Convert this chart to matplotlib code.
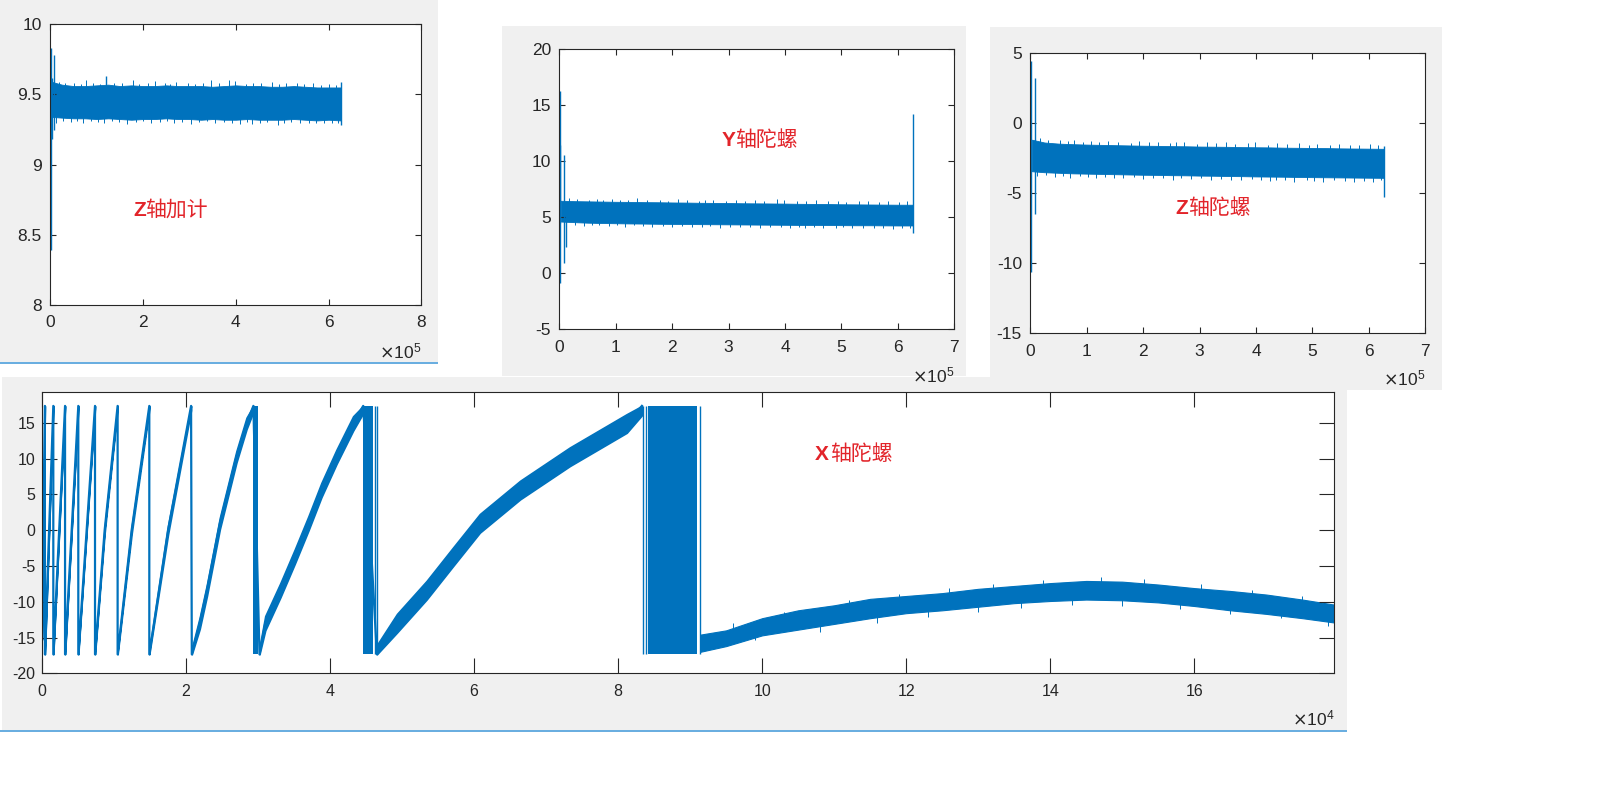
import numpy as np
import matplotlib
matplotlib.use('Agg')
import matplotlib.pyplot as plt
from matplotlib.patches import Rectangle

plt.rcParams['font.family'] = ['Liberation Sans', 'DejaVu Sans']
plt.rcParams['axes.unicode_minus'] = False

W, H = 1614, 787
BLUE = '#0072BD'
GRAY = '#F0F0F0'
AXC = '#262626'
RED = '#E2242A'
CJK = ['Noto Sans CJK SC', 'DejaVu Sans']

# ---- top three panels, x in units of 1e5 samples ----
env_x = [0.03, 0.25, 0.5, 0.75, 1.0, 1.25, 1.5, 1.75, 2.0, 2.25, 2.5, 2.75, 3.0,
         3.25, 3.5, 3.75, 4.0, 4.25, 4.5, 4.75, 5.0, 5.25, 5.5, 5.75, 6.0, 6.26]
# positions of visible noise peaks along the band edges
fz_up_x = [0.18, 0.31, 0.52, 0.66, 0.77, 0.93, 1.08, 1.21, 1.37, 1.55, 1.79, 1.92,
           2.11, 2.26, 2.47, 2.58, 2.72, 2.96, 3.13, 3.29, 3.46, 3.63, 3.86, 3.98,
           4.21, 4.38, 4.55, 4.77, 4.94, 5.08, 5.31, 5.47, 5.66, 5.83, 6.02, 6.17]
fz_lo_x = [0.12, 0.27, 0.44, 0.58, 0.71, 0.88, 1.02, 1.16, 1.33, 1.48, 1.65, 1.84,
           1.99, 2.18, 2.36, 2.52, 2.67, 2.85, 3.03, 3.21, 3.38, 3.55, 3.74, 3.92,
           4.09, 4.25, 4.36, 4.52, 4.68, 4.90, 5.03, 5.19, 5.38, 5.57, 5.74, 5.91, 6.08, 6.21]

# Z轴加计
zacc_up = [9.59, 9.57, 9.56, 9.56, 9.565, 9.57, 9.56, 9.565, 9.56, 9.56, 9.565, 9.56, 9.56,
           9.56, 9.555, 9.56, 9.565, 9.56, 9.56, 9.555, 9.555, 9.56, 9.555, 9.55, 9.55, 9.55]
zacc_lo = [9.34, 9.335, 9.33, 9.33, 9.325, 9.33, 9.325, 9.32, 9.325, 9.325, 9.33, 9.325, 9.325,
           9.32, 9.325, 9.32, 9.32, 9.325, 9.32, 9.32, 9.32, 9.325, 9.32, 9.315, 9.32, 9.315]
zacc_spk_x = [0.015, 0.03, 0.087, 1.21, 6.26]
zacc_spk_lo = [8.39, 9.18, 9.25, 9.45, 9.28]
zacc_spk_hi = [9.83, 9.62, 9.78, 9.63, 9.59]
zacc_fz_up = [9.59, 9.58, 9.585, 9.575, 9.60, 9.58, 9.575, 9.62, 9.58, 9.585, 9.60, 9.575,
              9.58, 9.595, 9.58, 9.575, 9.59, 9.58, 9.575, 9.585, 9.60, 9.58, 9.60, 9.595,
              9.575, 9.58, 9.585, 9.59, 9.575, 9.585, 9.58, 9.575, 9.58, 9.57, 9.575, 9.57]
zacc_fz_lo = [9.30, 9.31, 9.305, 9.31, 9.30, 9.31, 9.305, 9.30, 9.31, 9.305, 9.29, 9.305,
              9.31, 9.30, 9.305, 9.31, 9.30, 9.305, 9.29, 9.305, 9.31, 9.30, 9.305, 9.30,
              9.29, 9.305, 9.29, 9.30, 9.305, 9.28, 9.30, 9.305, 9.30, 9.295, 9.30, 9.295, 9.30, 9.295]

# Y轴陀螺
ygyr_up = [6.45, 6.42, 6.40, 6.38, 6.36, 6.35, 6.33, 6.32, 6.30, 6.29, 6.27, 6.26, 6.25,
           6.23, 6.22, 6.21, 6.20, 6.18, 6.17, 6.16, 6.14, 6.13, 6.12, 6.11, 6.10, 6.10]
ygyr_lo = [4.60, 4.55, 4.50, 4.47, 4.45, 4.43, 4.42, 4.40, 4.39, 4.38, 4.37, 4.36, 4.35,
           4.34, 4.33, 4.32, 4.31, 4.30, 4.30, 4.29, 4.28, 4.27, 4.27, 4.26, 4.25, 4.25]
ygyr_spk_x = [0.01, 0.02, 0.09, 0.12, 6.26]
ygyr_spk_lo = [-0.9, 4.5, 0.93, 2.3, 3.55]
ygyr_spk_hi = [11.4, 16.2, 10.5, 6.0, 14.18]
ygyr_fz_up = [6.7, 6.6, 6.55, 6.65, 6.5, 6.6, 6.55, 6.5, 6.7, 6.5, 6.55, 6.45,
              6.6, 6.5, 6.45, 6.55, 6.5, 6.45, 6.55, 6.4, 6.5, 6.45, 6.6, 6.5,
              6.4, 6.45, 6.5, 6.4, 6.45, 6.35, 6.45, 6.4, 6.35, 6.4, 6.35, 6.4]
ygyr_fz_lo = [4.35, 4.3, 4.2, 4.3, 4.25, 4.2, 4.3, 4.15, 4.25, 4.2, 4.1, 4.2,
              4.15, 4.2, 4.1, 4.15, 4.2, 4.05, 4.15, 4.1, 4.15, 4.05, 4.1, 4.15,
              4.0, 4.1, 4.05, 4.1, 4.0, 4.05, 4.1, 4.0, 4.05, 4.0, 4.05, 3.95, 4.05, 4.0]

# Z轴陀螺
zgyr_up = [-1.20, -1.40, -1.48, -1.52, -1.55, -1.57, -1.59, -1.61, -1.63, -1.64, -1.66, -1.67, -1.69,
           -1.70, -1.71, -1.73, -1.74, -1.75, -1.77, -1.78, -1.79, -1.80, -1.82, -1.83, -1.84, -1.85]
zgyr_lo = [-3.45, -3.52, -3.56, -3.60, -3.62, -3.64, -3.66, -3.68, -3.70, -3.71, -3.73, -3.74, -3.76,
           -3.77, -3.79, -3.80, -3.82, -3.83, -3.84, -3.86, -3.87, -3.88, -3.89, -3.90, -3.91, -3.92]
zgyr_spk_x = [0.005, 0.09, 6.26]
zgyr_spk_lo = [-10.65, -6.52, -5.31]
zgyr_spk_hi = [4.43, 3.17, -1.63]
zgyr_fz_up = [-1.1, -1.2, -1.25, -1.3, -1.2, -1.35, -1.3, -1.4, -1.3, -1.35, -1.45, -1.3,
              -1.4, -1.35, -1.45, -1.4, -1.35, -1.5, -1.4, -1.45, -1.35, -1.5, -1.45, -1.4,
              -1.55, -1.45, -1.5, -1.45, -1.55, -1.5, -1.6, -1.5, -1.55, -1.6, -1.5, -1.6]
zgyr_fz_lo = [-3.8, -3.75, -3.85, -3.8, -3.9, -3.8, -3.85, -3.95, -3.85, -3.9, -3.95, -3.85,
              -4.0, -3.9, -3.95, -4.05, -3.95, -4.0, -3.95, -4.1, -4.0, -4.05, -4.1, -4.0,
              -4.1, -4.15, -4.05, -4.1, -4.2, -4.1, -4.15, -4.2, -4.1, -4.15, -4.25, -4.15, -4.2, -4.1]

# ---- X轴陀螺, x in units of 1e4 samples ----
WRAP = 17.35
ramp_x = [
    [0.0, 0.04],
    [0.04, 0.157],
    [0.157, 0.32],
    [0.32, 0.504],
    [0.504, 0.736],
    [0.736, 0.87, 1.05],
    [1.05, 1.245, 1.49],
    [1.49, 1.75, 2.07],
    [2.08, 2.19, 2.29, 2.47, 2.70, 2.84, 2.935],
    [3.02, 3.10, 3.31, 3.51, 3.70, 3.88, 4.09, 4.32, 4.46],
    [4.65, 4.93, 5.34, 5.71, 6.08, 6.64, 7.33, 8.12, 8.33],
]
ramp_y = [
    [-15.0, 17.35],
    [-17.35, 17.35],
    [-17.35, 17.35],
    [-17.35, 17.35],
    [-17.35, 17.35],
    [-17.35, 0.0, 17.35],
    [-17.35, 0.0, 17.35],
    [-17.35, 0.0, 17.35],
    [-17.35, -13.0, -8.4, 0.95, 10.25, 14.9, 17.35],
    [-17.35, -13.0, -8.4, -3.7, 0.95, 5.6, 10.25, 14.9, 17.35],
    [-17.35, -13.0, -8.4, -3.7, 0.95, 5.6, 10.25, 14.9, 17.35],
]
ramp_noise = [0.3, 0.3, 0.3, 0.3, 0.4, 0.4, 0.5, 0.6, 0.8, 1.0, 1.3]
wrap_blocks = [(2.935, 3.0), (4.46, 4.60), (8.42, 9.10)]
wrap_lines = [4.62, 4.645, 8.34, 8.38, 9.13]

tail_x = [9.14, 9.5, 10.0, 10.5, 11.0, 11.5, 12.0, 12.5, 13.0, 13.5, 14.0, 14.5,
          15.0, 15.5, 16.0, 16.5, 17.0, 17.5, 17.94]
tail_up = [-14.6, -14.0, -12.3, -11.2, -10.5, -9.6, -9.2, -8.8, -8.2, -7.8, -7.4, -7.1,
           -7.2, -7.6, -8.1, -8.5, -9.0, -9.7, -10.4]
tail_lo = [-17.0, -16.2, -14.7, -13.9, -13.1, -12.3, -11.6, -11.2, -10.7, -10.2, -9.9, -9.7,
           -9.8, -10.1, -10.6, -11.2, -11.7, -12.3, -12.9]
tail_fz_up_x = [9.6, 10.3, 11.2, 11.9, 12.6, 13.2, 13.9, 14.7, 15.3, 16.1, 16.8, 17.5]
tail_fz_up = [-13.0, -11.5, -9.7, -8.9, -8.1, -7.5, -6.9, -6.5, -6.8, -7.5, -8.3, -9.2]
tail_fz_lo_x = [9.9, 10.8, 11.6, 12.3, 13.0, 13.6, 14.3, 15.0, 15.8, 16.5, 17.2, 17.85]
tail_fz_lo = [-15.3, -14.2, -13.0, -12.2, -11.4, -10.9, -10.5, -10.6, -11.0, -11.7, -12.3, -13.4]

fig = plt.figure(figsize=(W / 100, H / 100), dpi=100)
fig.patch.set_facecolor('white')


def rect(x0, y0, x1, y1, color=GRAY):
    fig.add_artist(Rectangle((x0 / W, 1 - y1 / H), (x1 - x0) / W, (y1 - y0) / H,
                             transform=fig.transFigure, color=color, zorder=-10, lw=0))


def add_ax(l, t, r, b):
    return fig.add_axes([l / W, 1 - b / H, (r - l) / W, (b - t) / H])


def style(ax, ticklen, fs, xpad, ypad):
    ax.tick_params(axis='both', direction='in', length=ticklen, width=0.8, colors=AXC,
                   labelsize=fs, top=True, right=True)
    ax.tick_params(axis='x', pad=xpad)
    ax.tick_params(axis='y', pad=ypad)
    for s in ax.spines.values():
        s.set_color(AXC)
        s.set_linewidth(0.8)


def label(x_latin, x_cjk, y, latin, cjk):
    fig.text(x_latin / W, 1 - y / H, latin, color=RED, fontsize=15, weight='bold',
             va='center', ha='left', zorder=20)
    fig.text(x_cjk / W, 1 - y / H, cjk, color=RED, fontsize=15, family=CJK,
             va='center', ha='left', zorder=20)


def expo(xr, y, n):
    fig.text(xr / W, 1 - y / H, r'$\times\mathregular{10^{%d}}$' % n, color=AXC,
             fontsize=12.5, ha='right', va='bottom', zorder=20)


def fuzz(ax, bx, bmid, xs, tips):
    n = min(len(xs), len(tips))
    xs = np.asarray(xs[:n])
    ax.vlines(xs, np.interp(xs, bx, bmid), tips[:n], color=BLUE, lw=0.7)


# backgrounds (screenshot windows)
rect(0, 0, 438, 362)
rect(502, 26, 966, 376)
rect(990, 27, 1442, 390)
rect(2, 377, 1347, 731)
rect(0, 362, 438, 364, color='#6AAEE0')
rect(0, 730, 1347, 732, color='#6AAEE0')


def band_panel(ax, up, lo, sx, slo, shi, fu, fl):
    mid = (np.asarray(up) + np.asarray(lo)) / 2
    ax.fill_between(env_x, lo, up, color=BLUE, lw=0.6, edgecolor=BLUE)
    fuzz(ax, env_x, mid, fz_up_x, fu)
    fuzz(ax, env_x, mid, fz_lo_x, fl)
    ax.vlines(sx, slo, shi, color=BLUE, lw=1.0)


# panel 1: Z轴加计
ax1 = add_ax(50.3, 24.3, 421.3, 305)
band_panel(ax1, zacc_up, zacc_lo, zacc_spk_x, zacc_spk_lo, zacc_spk_hi, zacc_fz_up, zacc_fz_lo)
ax1.set_xlim(0, 8)
ax1.set_ylim(8, 10)
ax1.set_xticks([0, 2, 4, 6, 8])
ax1.set_yticks([8, 8.5, 9, 9.5, 10])
ax1.set_yticklabels(['8', '8.5', '9', '9.5', '10'])
style(ax1, 4, 12.5, 7.5, 6)
label(133, 145.5, 210, 'Z', '轴加计')
expo(421.5, 361, 5)

# panel 2: Y轴陀螺
ax2 = add_ax(559.3, 48.7, 954.3, 329.3)
band_panel(ax2, ygyr_up, ygyr_lo, ygyr_spk_x, ygyr_spk_lo, ygyr_spk_hi, ygyr_fz_up, ygyr_fz_lo)
ax2.set_xlim(0, 7)
ax2.set_ylim(-5, 20)
ax2.set_xticks(range(0, 8))
ax2.set_yticks([-5, 0, 5, 10, 15, 20])
style(ax2, 4, 12.5, 7.5, 6)
label(721.5, 735, 140, 'Y', '轴陀螺')
expo(954.5, 385, 5)

# panel 3: Z轴陀螺
ax3 = add_ax(1030.3, 52.7, 1425.3, 333.3)
band_panel(ax3, zgyr_up, zgyr_lo, zgyr_spk_x, zgyr_spk_lo, zgyr_spk_hi, zgyr_fz_up, zgyr_fz_lo)
ax3.set_xlim(0, 7)
ax3.set_ylim(-15, 5)
ax3.set_xticks(range(0, 8))
ax3.set_yticks([-15, -10, -5, 0, 5])
style(ax3, 4, 12.5, 7.5, 6)
label(1175, 1188, 208, 'Z', '轴陀螺')
expo(1425.5, 388, 5)

# panel 4: X轴陀螺
ax4 = add_ax(42, 392.3, 1334, 673.3)
line_x, line_y = [], []
for xs, ys, h in zip(ramp_x, ramp_y, ramp_noise):
    xs = np.asarray(xs)
    ys = np.asarray(ys)
    ax4.fill_between(xs, np.clip(ys - h, -WRAP, WRAP), np.clip(ys + h, -WRAP, WRAP),
                     color=BLUE, lw=1.2, edgecolor=BLUE)
    line_x.extend(xs)
    line_y.extend(ys)
ax4.plot(line_x, line_y, color=BLUE, lw=1.6)
for x0, x1 in wrap_blocks:
    ax4.fill_between([x0, x1], [-WRAP, -WRAP], [WRAP, WRAP], color=BLUE, lw=0)
ax4.vlines(wrap_lines, -WRAP, WRAP, color=BLUE, lw=1.0)
ax4.fill_between(tail_x, tail_lo, tail_up, color=BLUE, lw=0.8, edgecolor=BLUE)
tail_mid = (np.asarray(tail_up) + np.asarray(tail_lo)) / 2
fuzz(ax4, tail_x, tail_mid, tail_fz_up_x, tail_fz_up)
fuzz(ax4, tail_x, tail_mid, tail_fz_lo_x, tail_fz_lo)
ax4.set_xlim(0, 17.94)
ax4.set_ylim(-20, 19.25)
ax4.set_xticks([0, 2, 4, 6, 8, 10, 12, 14, 16])
ax4.set_yticks([-20, -15, -10, -5, 0, 5, 10, 15])
style(ax4, 11, 11.5, 8, 5)
label(814.5, 830, 454, 'X', '轴陀螺')
expo(1334.5, 728, 4)

fig.savefig('out.png', dpi=100, facecolor='white')
